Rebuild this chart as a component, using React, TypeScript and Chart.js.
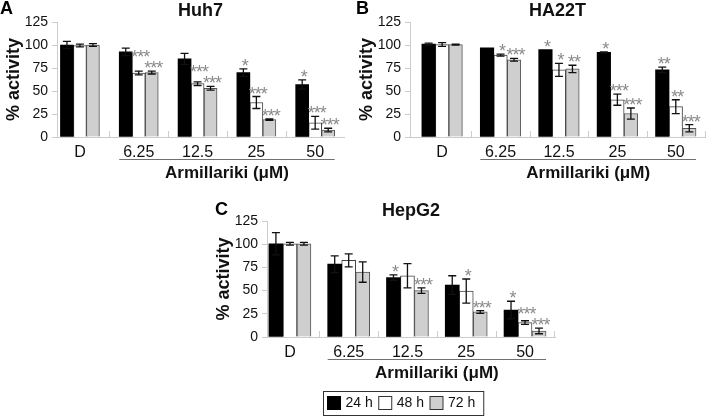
import React, { useEffect, useRef } from 'react';
import { Chart, registerables } from 'chart.js';

Chart.register(...registerables);

// ---------- data ----------
const categories = ['D', '6.25', '12.5', '25', '50'];
const seriesLabels = ['24 h', '48 h', '72 h'];
const yTickValues = [0, 25, 50, 75, 100, 125];
const xAxisTitle = 'Armillariki (μM)';
const yAxisTitle = '% activity';

// Huh7 (A)
const huh7Mean24 = [100, 92.5, 85, 70, 57];
const huh7Mean48 = [99.5, 69.5, 58, 37.5, 15.5];
const huh7Mean72 = [100, 70, 53, 19, 7.5];
const huh7Err24 = [4, 4, 6, 4, 5];
const huh7Err48 = [1.5, 2, 2, 6.5, 7];
const huh7Err72 = [1.5, 1.5, 2, 0.8, 2];
const huh7Sig24 = ['', '', '', '*', '*'];
const huh7Sig48 = ['', '***', '***', '***', '***'];
const huh7Sig72 = ['', '***', '***', '***', '***'];

// HA22T (B)
const ha22tMean24 = [101, 97, 95, 92, 73];
const ha22tMean48 = [100.5, 89, 73, 40.5, 33];
const ha22tMean72 = [100.5, 84, 74, 25.5, 9.5];
const ha22tErr24 = [1, 0, 0, 0.5, 3];
const ha22tErr48 = [2, 1, 7, 6, 7.5];
const ha22tErr72 = [0.5, 1.5, 4, 6, 4];
const ha22tSig24 = ['', '', '*', '*', '**'];
const ha22tSig48 = ['', '*', '*', '***', '**'];
const ha22tSig72 = ['', '***', '**', '***', '***'];

// HepG2 (C)
const hepg2Mean24 = [100.5, 78.5, 64, 56, 29];
const hepg2Mean48 = [100.5, 82.5, 66, 49.5, 15.5];
const hepg2Mean72 = [100.5, 70, 50, 27, 6.5];
const hepg2Err24 = [12, 9, 3, 10, 9.5];
const hepg2Err48 = [1.5, 7, 13, 13, 2];
const hepg2Err72 = [1.5, 11, 3, 1.5, 3];
const hepg2Sig24 = ['', '', '*', '', '*'];
const hepg2Sig48 = ['', '', '', '*', '***'];
const hepg2Sig72 = ['', '', '***', '***', '***'];

// ---------- styles ----------
const FONT = 'Arial, "Liberation Sans", Helvetica, sans-serif';
const barFills = ['#000000', '#ffffff', '#cfcfcf'];
const barBorders = ['#000000', '#444444', '#555555'];
const axisColor = '#cccccc';
const starColor = '#8a8a8a';

type PanelCfg = {
  letter: string;
  title: string;
  left: number;
  top: number;
  w: number;
  h: number;
  padTop: number;
  padRight: number;
  yWidth: number;
  xHeight: number;
  xMin: number;
  xMax: number;
  barW: number;
  letterX: number;
  letterY: number;
  legend?: { x: number; y: number; h: number };
  means: number[][];
  errs: number[][];
  sigs: string[][];
};

const panels: PanelCfg[] = [
  {
    letter: 'A', title: 'Huh7', left: 0, top: 0, w: 353, h: 200,
    padTop: 22, padRight: 9, yWidth: 57, xHeight: 63, xMin: -0.39, xMax: 4.49, barW: 13,
    letterX: 0, letterY: 14,
    means: [huh7Mean24, huh7Mean48, huh7Mean72],
    errs: [huh7Err24, huh7Err48, huh7Err72],
    sigs: [huh7Sig24, huh7Sig48, huh7Sig72],
  },
  {
    letter: 'B', title: 'HA22T', left: 353, top: 0, w: 353, h: 200,
    padTop: 22, padRight: 1, yWidth: 57, xHeight: 63, xMin: -0.55, xMax: 4.5, barW: 13.5,
    letterX: 3, letterY: 14,
    means: [ha22tMean24, ha22tMean48, ha22tMean72],
    errs: [ha22tErr24, ha22tErr48, ha22tErr72],
    sigs: [ha22tSig24, ha22tSig48, ha22tSig72],
  },
  {
    letter: 'C', title: 'HepG2', left: 210, top: 200, w: 360, h: 217,
    padTop: 21, padRight: 15, yWidth: 57, xHeight: 80, xMin: -0.39, xMax: 4.51, barW: 14,
    letterX: 5, letterY: 15,
    legend: { x: 113, y: 191, h: 24 },
    means: [hepg2Mean24, hepg2Mean48, hepg2Mean72],
    errs: [hepg2Err24, hepg2Err48, hepg2Err72],
    sigs: [hepg2Sig24, hepg2Sig48, hepg2Sig72],
  },
];

const decorPlugin = {
  id: 'decor',
  afterDatasetsDraw(chart: any, _args: any, opts: any) {
    const cfg: PanelCfg = opts.cfg;
    const { ctx, chartArea } = chart;
    const xs = chart.scales.x;
    const ys = chart.scales.y;
    ctx.save();

    // inward tick marks between groups
    ctx.strokeStyle = axisColor;
    ctx.lineWidth = 1;
    for (let i = 0; i < categories.length; i++) {
      const px = Math.round(xs.getPixelForValue(i + 0.5)) + 0.5;
      if (px > chartArea.right + 1) continue;
      ctx.beginPath();
      ctx.moveTo(px, chartArea.bottom);
      ctx.lineTo(px, chartArea.bottom - 6);
      ctx.stroke();
    }

    // error bars
    ctx.strokeStyle = '#111111';
    ctx.lineWidth = 1.3;
    chart.data.datasets.forEach((_ds: any, di: number) => {
      const meta = chart.getDatasetMeta(di);
      meta.data.forEach((el: any, i: number) => {
        const m = cfg.means[di][i];
        const e = cfg.errs[di][i];
        if (!e) return;
        const yt = ys.getPixelForValue(m + e);
        const yb = ys.getPixelForValue(Math.max(m - e, 0));
        const x = el.x;
        ctx.beginPath();
        ctx.moveTo(x, yt);
        ctx.lineTo(x, yb);
        ctx.moveTo(x - 4, yt);
        ctx.lineTo(x + 4, yt);
        ctx.moveTo(x - 4, yb);
        ctx.lineTo(x + 4, yb);
        ctx.stroke();
      });
    });

    // significance stars (lift a label above its right neighbour if they collide)
    ctx.fillStyle = starColor;
    ctx.font = `18px ${FONT}`;
    (ctx as any).letterSpacing = '-1px';
    ctx.textAlign = 'center';
    ctx.textBaseline = 'alphabetic';
    const nSets = chart.data.datasets.length;
    for (let i = 0; i < categories.length; i++) {
      const items: { x: number; y: number; w: number; s: string }[] = [];
      for (let di = 0; di < nSets; di++) {
        const el = chart.getDatasetMeta(di).data[i];
        const s = cfg.sigs[di][i];
        const top = ys.getPixelForValue(cfg.means[di][i] + cfg.errs[di][i]);
        items.push({ x: el.x + 1.5, y: top + 3, w: s ? ctx.measureText(s).width : 0, s });
      }
      for (let di = nSets - 2; di >= 0; di--) {
        const a = items[di];
        if (!a.s) continue;
        for (let dj = di + 1; dj < nSets; dj++) {
          const b = items[dj];
          if (!b.s) continue;
          const overlapX = a.x + a.w / 2 > b.x - b.w / 2 + 1;
          if (overlapX && a.y > b.y - 11) a.y = b.y - 11;
        }
      }
      items.forEach((it) => {
        if (it.s) ctx.fillText(it.s, it.x, it.y);
      });
    }
    (ctx as any).letterSpacing = '0px';

    // bracket + x title
    const gw = cfg.barW * 3;
    const bx0 = xs.getPixelForValue(1) - gw / 2;
    const bx1 = xs.getPixelForValue(categories.length - 1) + gw / 2;
    const by = Math.round(chartArea.bottom + 22) + 0.5;
    ctx.strokeStyle = '#707070';
    ctx.lineWidth = 1;
    ctx.beginPath();
    ctx.moveTo(bx0, by);
    ctx.lineTo(bx1, by);
    ctx.stroke();
    ctx.fillStyle = '#111111';
    ctx.font = `bold 17px ${FONT}`;
    ctx.textAlign = 'center';
    ctx.textBaseline = 'middle';
    ctx.fillText(xAxisTitle, (bx0 + bx1) / 2, chartArea.bottom + 36);

    // title
    ctx.font = `bold 18px ${FONT}`;
    ctx.fillText(cfg.title, (chartArea.left + chartArea.right) / 2, 11);

    // y title
    ctx.save();
    ctx.translate(14, (chartArea.top + chartArea.bottom) / 2);
    ctx.rotate(-Math.PI / 2);
    ctx.font = `bold 18px ${FONT}`;
    ctx.textAlign = 'center';
    ctx.textBaseline = 'middle';
    ctx.fillText(yAxisTitle, 0, 0);
    ctx.restore();

    // panel letter
    ctx.font = `bold 18px ${FONT}`;
    ctx.textAlign = 'left';
    ctx.textBaseline = 'alphabetic';
    ctx.fillStyle = '#000000';
    ctx.fillText(cfg.letter, cfg.letterX, cfg.letterY);

    // legend
    if (cfg.legend) {
      const L = cfg.legend;
      ctx.font = `14px ${FONT}`;
      ctx.textBaseline = 'middle';
      let x = L.x + 4.5;
      const cy = L.y + L.h / 2;
      let textEnd = x;
      seriesLabels.forEach((lab, k) => {
        ctx.fillStyle = barFills[k];
        ctx.fillRect(x, cy - 6.5, 13, 13);
        ctx.strokeStyle = k === 0 ? '#000' : '#333';
        ctx.lineWidth = 1;
        ctx.strokeRect(x, cy - 6.5, 13, 13);
        x += 13 + 5;
        ctx.fillStyle = '#111111';
        ctx.fillText(lab, x, cy + 0.5);
        x += ctx.measureText(lab).width;
        textEnd = x;
        x += 6;
      });
      ctx.strokeStyle = '#333333';
      ctx.lineWidth = 1;
      ctx.strokeRect(L.x + 0.5, L.y + 0.5, textEnd + 8 - L.x, L.h);
    }

    ctx.restore();
  },
};

function buildConfig(cfg: PanelCfg): any {
  return {
    type: 'bar',
    data: {
      datasets: seriesLabels.map((lab, k) => ({
        label: lab,
        data: cfg.means[k].map((v, i) => ({ x: i, y: v })),
        backgroundColor: barFills[k],
        borderColor: barBorders[k],
        borderWidth: k === 0 ? 0 : 1,
        barThickness: cfg.barW,
      })),
    },
    options: {
      animation: false,
      responsive: false,
      maintainAspectRatio: false,
      layout: { padding: { top: cfg.padTop, right: cfg.padRight, left: 0, bottom: 0 } },
      plugins: {
        legend: { display: false },
        title: { display: false },
        tooltip: { enabled: false },
        decor: { cfg },
      },
      scales: {
        x: {
          type: 'linear',
          offset: false,
          min: cfg.xMin,
          max: cfg.xMax,
          afterBuildTicks: (s: any) => {
            s.ticks = categories.map((_c, i) => ({ value: i }));
          },
          afterFit: (s: any) => {
            s.height = cfg.xHeight;
          },
          grid: { display: false, drawTicks: false },
          border: { display: true, color: axisColor, width: 1 },
          ticks: {
            callback: (v: number) => categories[v] ?? '',
            font: { size: 16, family: FONT },
            color: '#111111',
            padding: 6,
            autoSkip: false,
            maxRotation: 0,
            minRotation: 0,
          },
        },
        y: {
          type: 'linear',
          min: 0,
          max: 125,
          afterBuildTicks: (s: any) => {
            s.ticks = yTickValues.map((v) => ({ value: v }));
          },
          afterFit: (s: any) => {
            s.width = cfg.yWidth;
          },
          grid: { drawOnChartArea: false, drawTicks: true, tickLength: 5, color: axisColor },
          border: { display: true, color: axisColor, width: 1 },
          ticks: {
            font: { size: 14, family: FONT },
            color: '#111111',
            padding: 4,
          },
        },
      },
    },
    plugins: [decorPlugin],
  };
}

function Panel({ cfg }: { cfg: PanelCfg }) {
  const ref = useRef<HTMLCanvasElement | null>(null);
  useEffect(() => {
    if (!ref.current) return;
    const chart = new Chart(ref.current, buildConfig(cfg));
    return () => chart.destroy();
  }, [cfg]);
  return (
    <canvas
      ref={ref}
      width={cfg.w}
      height={cfg.h}
      style={{ position: 'absolute', left: cfg.left, top: cfg.top, width: cfg.w, height: cfg.h }}
    />
  );
}

export default function App() {
  return (
    <div
      style={{
        position: 'absolute',
        left: 0,
        top: 0,
        width: 706,
        height: 417,
        overflow: 'hidden',
        background: '#ffffff',
      }}
    >
      {panels.map((p) => (
        <Panel key={p.letter} cfg={p} />
      ))}
    </div>
  );
}
